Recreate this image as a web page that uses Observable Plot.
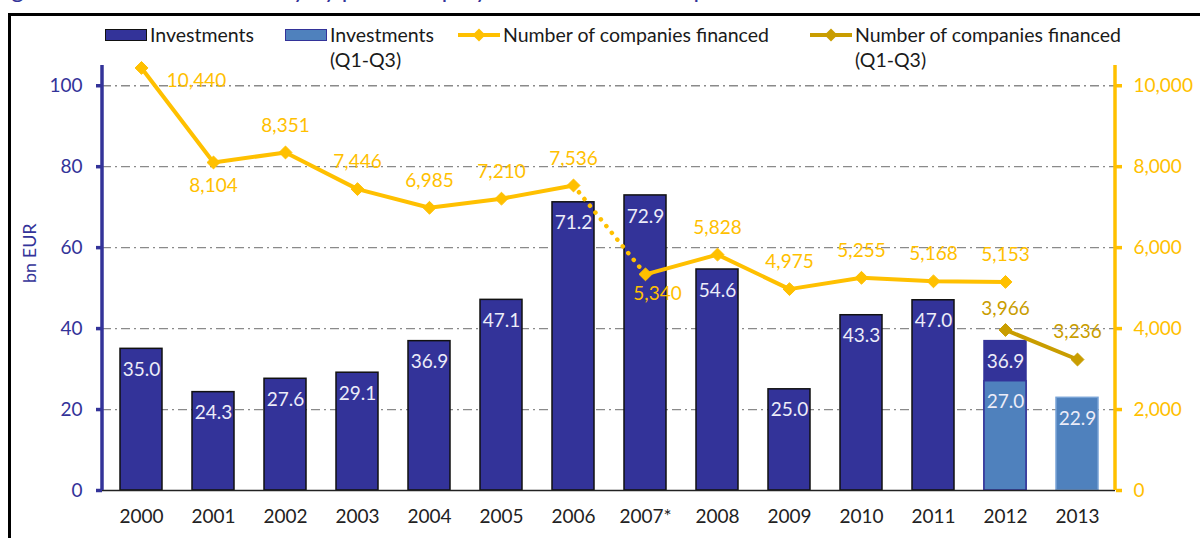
<!DOCTYPE html>
<html><head><meta charset="utf-8">
<script src="https://cdn.jsdelivr.net/npm/d3@7"></script>
<script src="https://cdn.jsdelivr.net/npm/@observablehq/plot@0.6"></script>
<style>
html,body{margin:0;padding:0;background:#fff;overflow:hidden;}
#wrap{position:relative;width:1200px;height:538px;font-family:Lato,"Open Sans",sans-serif;overflow:hidden;}
#title{position:absolute;left:-8px;top:-22px;font-size:24px;line-height:22px;color:#333399;white-space:nowrap;}
#frame{position:absolute;left:8px;top:13px;width:1300px;height:700px;border-left:3px solid #000;border-top:3px solid #000;}
#chart{position:absolute;left:0;top:0;}
.lg{position:absolute;font-size:19.5px;line-height:25px;color:#1a1a1a;white-space:nowrap;}
.sw{position:absolute;box-sizing:border-box;width:42px;height:12px;top:29px;}
.ls{position:absolute;top:27px;width:42px;height:16px;}
</style></head><body>
<div id="wrap">
  <div id="title">Figure 10: Investment activity by private equity firms based in Europe</div>
  <div id="frame"></div>
  <div id="chart"></div>
  <div id="legend"></div>
</div>
<script>
// ---- data ----
const years = ["2000","2001","2002","2003","2004","2005","2006","2007*","2008","2009","2010","2011","2012","2013"];
const investments = [35.0,24.3,27.6,29.1,36.9,47.1,71.2,72.9,54.6,25.0,43.3,47.0,36.9,null];
const investmentsQ1Q3 = [null,null,null,null,null,null,null,null,null,null,null,null,27.0,22.9];
const companies = [10440,8104,8351,7446,6985,7210,7536,5340,5828,4975,5255,5168,5153,null];
const companiesQ1Q3 = [null,null,null,null,null,null,null,null,null,null,null,null,3966,3236];
const leftTicks = [0,20,40,60,80,100];
const rightTicks = [0,2000,4000,6000,8000,10000];
const legendLabels = ["Investments","Investments<br>(Q1-Q3)","Number of companies financed","Number of companies financed<br>(Q1-Q3)"];

// ---- styles ----
const DARK = "#333399", LIGHT = "#4f81bd", YEL = "#ffc000", GOLD = "#c99d00";
const R = 100; // right axis: 10,000 companies <-> 100 on the left scale
const Y_DOMAIN = [0, 105];
const fmt = d3.format(",");

const fullBars = years.map((year,i)=>({year, value: investments[i]})).filter(d=>d.value!=null);
const qBars = years.map((year,i)=>({year, value: investmentsQ1Q3[i]})).filter(d=>d.value!=null);
const comp = years.map((year,i)=>({year, value: companies[i], i})).filter(d=>d.value!=null);
const compQ = years.map((year,i)=>({year, value: companiesQ1Q3[i]})).filter(d=>d.value!=null);
const i2006 = years.indexOf("2006"), i2007 = years.indexOf("2007*");
const seg1 = comp.filter(d=>d.i<=i2006);
const seg2 = comp.filter(d=>d.i>=i2007);
const segDot = comp.filter(d=>d.i===i2006||d.i===i2007);
const belowSet = new Set(["2001"]);
const labAbove = comp.filter(d=>d.year!=="2000" && d.year!=="2007*" && !belowSet.has(d.year));
const labBelow = comp.filter(d=>belowSet.has(d.year));
const labFirst = comp.filter(d=>d.year==="2000");
const labDip = comp.filter(d=>d.year==="2007*");

// axis lines (left purple, right yellow) drawn from the y scale
function axisLines(index, scales, values, dimensions) {
  const {width, marginLeft, marginRight} = dimensions;
  const g = d3.create("svg:g");
  const ya = scales.y(Y_DOMAIN[0]), yb = scales.y(Y_DOMAIN[1]);
  g.append("line").attr("x1", marginLeft).attr("x2", marginLeft).attr("y1", ya).attr("y2", yb)
    .attr("stroke", DARK).attr("stroke-width", 3.5);
  g.append("line").attr("x1", width - marginRight).attr("x2", width - marginRight).attr("y1", ya).attr("y2", yb)
    .attr("stroke", YEL).attr("stroke-width", 3.5);
  return g.node();
}

const FS = 19;
const chart = Plot.plot({
  width: 1200, height: 538,
  marginLeft: 102, marginRight: 85, marginTop: 65, marginBottom: 48,
  style: {fontFamily: "Lato, 'Open Sans', sans-serif", background: "transparent", overflow: "visible"},
  x: {domain: years, paddingInner: 0.42, paddingOuter: 0.21},
  y: {domain: Y_DOMAIN},
  marks: [
    Plot.ruleY(leftTicks.filter(d=>d>0), {stroke: "#8a8a8a", strokeWidth: 1.3, strokeDasharray: "9,4,2,4"}),
    Plot.barY(fullBars, {x: "year", y: "value", fill: DARK, stroke: d=>d.year==="2012" ? DARK : "#111", strokeWidth: 1.5}),
    Plot.barY(qBars, {x: "year", y: "value", fill: LIGHT, stroke: d=>d.year==="2012" ? DARK : "#78a3d6", strokeWidth: 1.5}),
    Plot.text(fullBars.concat(qBars), {x: "year", y: "value", text: d=>d.value.toFixed(1), dy: 21, fill: "#ececf8", fontSize: FS}),
    Plot.ruleY([0], {stroke: "#222", strokeWidth: 1.5}),
    axisLines,
    Plot.axisY(leftTicks, {anchor: "left", stroke: DARK, fill: DARK, strokeWidth: 3.5, tickSize: 6, tickPadding: 14, fontSize: FS, label: null}),
    Plot.axisY(rightTicks.map(d=>d/R), {anchor: "right", stroke: YEL, fill: YEL, strokeWidth: 3.5, tickSize: 6, tickPadding: 12, fontSize: FS, tickFormat: d=>fmt(Math.round(d*R)), label: null}),
    Plot.axisX({tickSize: 0, tickPadding: 19, fontSize: FS, fill: "#222", label: null}),
    Plot.text(["bn EUR"], {frameAnchor: "left", dx: -72, dy: 5, rotate: -90, fill: DARK, fontSize: 18}),
    // lines
    Plot.line(segDot, {x: "year", y: d=>d.value/R, stroke: YEL, strokeWidth: 4.5, strokeDasharray: "0.1,8.6", strokeLinecap: "round"}),
    Plot.line(seg1, {x: "year", y: d=>d.value/R, stroke: YEL, strokeWidth: 4, strokeLinejoin: "round"}),
    Plot.line(seg2, {x: "year", y: d=>d.value/R, stroke: YEL, strokeWidth: 4, strokeLinejoin: "round"}),
    Plot.line(compQ, {x: "year", y: d=>d.value/R, stroke: GOLD, strokeWidth: 4, strokeLinejoin: "round"}),
    Plot.dot(comp, {x: "year", y: d=>d.value/R, symbol: "diamond2", r: 5.8, fill: YEL, stroke: YEL, strokeWidth: 1}),
    Plot.dot(compQ, {x: "year", y: d=>d.value/R, symbol: "diamond2", r: 5.8, fill: GOLD, stroke: GOLD, strokeWidth: 1}),
    // line labels
    Plot.text(labAbove, {x: "year", y: d=>d.value/R, text: d=>fmt(d.value), dy: -27, fill: YEL, fontSize: FS}),
    Plot.text(labBelow, {x: "year", y: d=>d.value/R, text: d=>fmt(d.value), dy: 23, fill: YEL, fontSize: FS}),
    Plot.text(labFirst, {x: "year", y: d=>d.value/R, text: d=>fmt(d.value), dx: 55, dy: 13, fill: YEL, fontSize: FS}),
    Plot.text(labDip, {x: "year", y: d=>d.value/R, text: d=>fmt(d.value), dx: 12, dy: 20, fill: YEL, fontSize: FS}),
    Plot.text(compQ.filter(d=>d.year==="2012"), {x: "year", y: d=>d.value/R, text: d=>fmt(d.value), dy: -21, fill: GOLD, fontSize: FS}),
    Plot.text(compQ.filter(d=>d.year==="2013"), {x: "year", y: d=>d.value/R, text: d=>fmt(d.value), dy: -28, fill: GOLD, fontSize: FS})
  ]
});
document.getElementById("chart").appendChild(chart);

// ---- legend ----
const lg = document.getElementById("legend");
function diamondSwatch(color, left) {
  return `<svg class="ls" style="left:${left}px" viewBox="0 0 42 16"><line x1="0" y1="8" x2="42" y2="8" stroke="${color}" stroke-width="4"/><path d="M21 1.5 L27.5 8 L21 14.5 L14.5 8 Z" fill="${color}"/></svg>`;
}
lg.innerHTML =
  `<div class="sw" style="left:105px;background:${DARK};border:1.5px solid #111"></div>` +
  `<div class="lg" style="left:150px;top:22px">${legendLabels[0]}</div>` +
  `<div class="sw" style="left:285px;background:${LIGHT};border:1.5px solid ${DARK}"></div>` +
  `<div class="lg" style="left:330px;top:22px">${legendLabels[1]}</div>` +
  diamondSwatch(YEL, 458) +
  `<div class="lg" style="left:503px;top:22px">${legendLabels[2]}</div>` +
  diamondSwatch(GOLD, 810) +
  `<div class="lg" style="left:855px;top:22px">${legendLabels[3]}</div>`;
</script>
</body></html>
